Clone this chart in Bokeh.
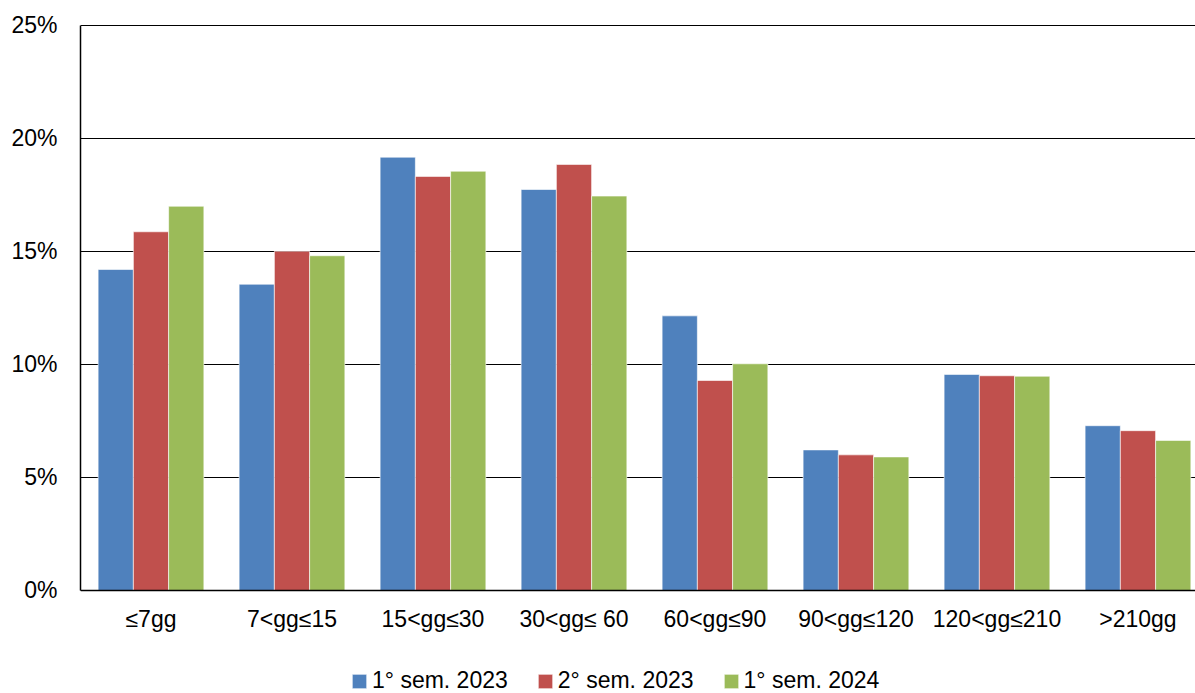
from bokeh.plotting import figure
from bokeh.models import ColumnDataSource, FixedTicker, PrintfTickFormatter, Legend, LegendItem, Range1d
from bokeh.transform import dodge
from bokeh.embed import file_html
from bokeh.resources import INLINE

categories = ["≤7gg", "7<gg≤15", "15<gg≤30", "30<gg≤ 60", "60<gg≤90", "90<gg≤120", "120<gg≤210", ">210gg"]
series_names = ["1° sem. 2023", "2° sem. 2023", "1° sem. 2024"]
s1_2023 = [14.2, 13.55, 19.17, 17.74, 12.15, 6.22, 9.56, 7.29]
s2_2023 = [15.87, 15.01, 18.32, 18.85, 9.29, 6.0, 9.5, 7.07]
s1_2024 = [17.0, 14.81, 18.55, 17.45, 10.03, 5.91, 9.48, 6.64]
y_ticks = [0, 5, 10, 15, 20, 25]
colors = ["#4F81BD", "#C0504D", "#9BBB59"]

FONT = "Liberation Sans"
FS = "23px"

x_pos = [i + 0.5 for i in range(len(categories))]
src = ColumnDataSource(dict(x=x_pos, a=s1_2023, b=s2_2023, c=s1_2024))

p = figure(width=1195, height=693, output_backend="svg", toolbar_location=None,
           x_range=Range1d(0, 7.908), y_range=Range1d(-4.557, 25.04),
           min_border_left=80, min_border_top=24, min_border_right=0, min_border_bottom=0)

renderers = []
for key, off, col in zip(["a", "b", "c"], [-0.25, 0.0, 0.25], colors):
    r = p.vbar(x=dodge("x", off, range=p.x_range), top=key, width=0.25, bottom=0,
               source=src, fill_color=col, line_color="#ffffff", line_alpha=0.6, line_width=1)
    renderers.append(r)

p.outline_line_color = None
p.background_fill_color = "white"
p.border_fill_color = "white"

p.xgrid.visible = False
p.ygrid.grid_line_color = "#000000"
p.ygrid.grid_line_width = 1.2
p.ygrid.ticker = FixedTicker(ticks=y_ticks)

p.yaxis.ticker = FixedTicker(ticks=y_ticks)
p.yaxis.bounds = (y_ticks[0], y_ticks[-1])
p.yaxis.formatter = PrintfTickFormatter(format="%d%%")
p.yaxis.axis_line_color = "#000000"
p.yaxis.axis_line_width = 1.5
p.yaxis.major_tick_line_color = None
p.yaxis.minor_tick_line_color = None
p.yaxis.major_label_standoff = 17
p.yaxis.major_label_text_font = FONT
p.yaxis.major_label_text_font_size = FS
p.yaxis.major_label_text_color = "#000000"

p.xaxis.fixed_location = 0
p.xaxis.ticker = FixedTicker(ticks=x_pos)
p.xaxis.major_label_overrides = {x: c for x, c in zip(x_pos, categories)}
p.xaxis.axis_line_color = "#000000"
p.xaxis.axis_line_width = 1.5
p.xaxis.major_tick_line_color = None
p.xaxis.minor_tick_line_color = None
p.xaxis.major_label_standoff = 10
p.xaxis.major_label_text_font = FONT
p.xaxis.major_label_text_font_size = FS
p.xaxis.major_label_text_color = "#000000"

legend = Legend(items=[LegendItem(label=n, renderers=[r]) for n, r in zip(series_names, renderers)],
                orientation="horizontal", location=(270, -1),
                label_text_font=FONT, label_text_font_size=FS, label_text_color="#000000",
                glyph_width=18, glyph_height=18, label_standoff=4, spacing=28,
                border_line_color=None, background_fill_alpha=0, margin=0, padding=0)
p.add_layout(legend, "center")

open("out.html", "w").write(file_html(p, INLINE))
